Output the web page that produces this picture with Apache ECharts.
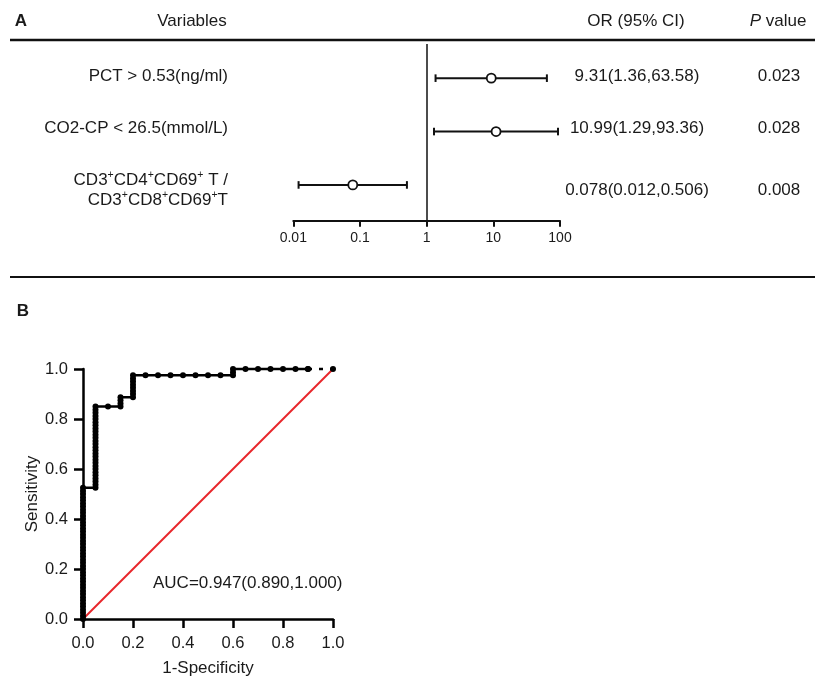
<!DOCTYPE html>
<html><head><meta charset="utf-8">
<script src="https://cdn.jsdelivr.net/npm/echarts@6/dist/echarts.min.js"></script>
<style>html,body{margin:0;padding:0;background:#fff}#c{width:826px;height:678px}</style>
</head><body><div id="c"></div>
<script>
// ---------- Panel A data (forest plot) ----------
const variableLabels = ['PCT > 0.53(ng/ml)', 'CO2-CP < 26.5(mmol/L)', 'CD3⁺CD4⁺CD69⁺ T /\nCD3⁺CD8⁺CD69⁺T'];
const orValues = [9.31, 10.99, 0.078];
const ciLow = [1.36, 1.29, 0.012];
const ciHigh = [63.58, 93.36, 0.506];
const orText = ['9.31(1.36,63.58)', '10.99(1.29,93.36)', '0.078(0.012,0.506)'];
const pValues = ['0.023', '0.028', '0.008'];
const forestTicks = ['0.01', '0.1', '1', '10', '100'];

// ---------- Panel B data (ROC) ----------
const rocPoints = [
 [0,0],[0,0.0125],[0,0.025],[0,0.0375],[0,0.05],[0,0.0625],[0,0.075],[0,0.0875],[0,0.1],[0,0.1125],
 [0,0.125],[0,0.1375],[0,0.15],[0,0.1625],[0,0.175],[0,0.1875],[0,0.2],[0,0.2125],[0,0.225],[0,0.2375],
 [0,0.25],[0,0.2625],[0,0.275],[0,0.2875],[0,0.3],[0,0.3125],[0,0.325],[0,0.3375],[0,0.35],[0,0.3625],
 [0,0.375],[0,0.3875],[0,0.4],[0,0.4125],[0,0.425],[0,0.4375],[0,0.45],[0,0.4625],[0,0.475],[0,0.4875],
 [0,0.5],[0,0.5125],[0,0.525],
 [0.05,0.525],[0.05,0.5375],[0.05,0.55],[0.05,0.5625],[0.05,0.575],[0.05,0.5875],[0.05,0.6],[0.05,0.6125],
 [0.05,0.625],[0.05,0.6375],[0.05,0.65],[0.05,0.6625],[0.05,0.675],[0.05,0.6875],[0.05,0.7],[0.05,0.7125],
 [0.05,0.725],[0.05,0.7375],[0.05,0.75],[0.05,0.7625],[0.05,0.775],[0.05,0.7875],[0.05,0.8],[0.05,0.8125],
 [0.05,0.825],[0.05,0.8375],[0.05,0.85],
 [0.1,0.85],[0.15,0.85],[0.15,0.8625],[0.15,0.875],[0.15,0.8875],
 [0.2,0.8875],[0.2,0.9],[0.2,0.9125],[0.2,0.925],[0.2,0.9375],[0.2,0.95],[0.2,0.9625],[0.2,0.975],
 [0.25,0.975],[0.3,0.975],[0.35,0.975],[0.4,0.975],[0.45,0.975],[0.5,0.975],[0.55,0.975],[0.6,0.975],
 [0.6,0.9875],[0.6,1],[0.65,1],[0.7,1],[0.75,1],[0.8,1],[0.85,1],[0.9,1]
];
const rocTail = [[0.9,1],[1,1]];
const refLine = [[0,0],[1,1]];
const rocTicks = ['0.0','0.2','0.4','0.6','0.8','1.0'];
const aucText = 'AUC=0.947(0.890,1.000)';

const FONT = '"Liberation Sans", Arial, sans-serif';
const TXT = '#1a1a1a';
const FS = 17;

const chart = echarts.init(document.getElementById('c'), null, {renderer: 'canvas'});

chart.setOption({
  animation: false,
  backgroundColor: '#fff',
  textStyle: {fontFamily: FONT},
  grid: [
    {left: 293.3, right: 266, top: 44, bottom: 457.3, containLabel: false},
    {left: 83, width: 250, top: 369, height: 251, containLabel: false}
  ],
  xAxis: [
    {
      gridIndex: 0, type: 'log', logBase: 10, min: 0.01, max: 100,
      axisLine: {onZero: false, lineStyle: {color: '#111', width: 2}},
      axisTick: {length: 6, lineStyle: {color: '#111', width: 2}},
      axisLabel: {fontSize: 14, color: TXT, margin: 10, fontFamily: FONT,
        formatter: (v, i) => forestTicks[i]},
      splitLine: {show: false}
    },
    {
      gridIndex: 1, type: 'value', min: 0, max: 1, interval: 0.2,
      axisLine: {onZero: false, lineStyle: {color: '#000', width: 2.5}},
      axisTick: {length: 9, lineStyle: {color: '#000', width: 2.5}},
      axisLabel: {fontSize: 16.5, color: TXT, margin: 16, fontFamily: FONT,
        formatter: (v, i) => rocTicks[i]},
      splitLine: {show: false},
      name: '1-Specificity', nameLocation: 'middle', nameGap: 41,
      nameTextStyle: {fontSize: FS, color: TXT, fontFamily: FONT}
    }
  ],
  yAxis: [
    {gridIndex: 0, type: 'value', min: -0.64, max: 2.67, inverse: true, show: false},
    {
      gridIndex: 1, type: 'value', min: 0, max: 1, interval: 0.2,
      axisLine: {onZero: false, lineStyle: {color: '#000', width: 2.5}},
      axisTick: {length: 9, lineStyle: {color: '#000', width: 2.5}},
      axisLabel: {fontSize: 16.5, color: TXT, margin: 15, fontFamily: FONT,
        formatter: (v, i) => rocTicks[i]},
      splitLine: {show: false},
      name: 'Sensitivity', nameLocation: 'middle', nameGap: 41,
      nameTextStyle: {fontSize: FS, color: TXT, fontFamily: FONT}
    }
  ],
  series: [
    {
      type: 'custom', xAxisIndex: 0, yAxisIndex: 0,
      data: orValues.map((v, i) => [ciLow[i], ciHigh[i], i]),
      encode: {x: [0, 1], y: 2},
      renderItem: function (params, api) {
        const lo = api.coord([api.value(0), api.value(2)]);
        const hi = api.coord([api.value(1), api.value(2)]);
        const h = 3.8;
        const st = {stroke: '#111', lineWidth: 2};
        return {type: 'group', children: [
          {type: 'line', shape: {x1: lo[0], y1: lo[1], x2: hi[0], y2: hi[1]}, style: st},
          {type: 'line', shape: {x1: lo[0], y1: lo[1] - h, x2: lo[0], y2: lo[1] + h}, style: st},
          {type: 'line', shape: {x1: hi[0], y1: hi[1] - h, x2: hi[0], y2: hi[1] + h}, style: st}
        ]};
      },
      z: 3
    },
    {
      type: 'scatter', xAxisIndex: 0, yAxisIndex: 0,
      data: orValues.map((v, i) => [v, i]),
      symbol: 'circle', symbolSize: 9,
      itemStyle: {color: '#fff', borderColor: '#111', borderWidth: 1.8, opacity: 1},
      z: 4,
      markLine: {
        silent: true, symbol: 'none', label: {show: false},
        lineStyle: {color: '#111', width: 1.5, type: 'solid'},
        data: [{xAxis: 1}]
      }
    },
    {
      type: 'line', xAxisIndex: 1, yAxisIndex: 1, data: refLine,
      showSymbol: false, lineStyle: {color: '#e8262a', width: 2}, z: 2
    },
    {
      type: 'line', xAxisIndex: 1, yAxisIndex: 1, data: rocPoints,
      symbol: 'circle', symbolSize: 6, showSymbol: true, clip: false,
      itemStyle: {color: '#000'}, lineStyle: {color: '#000', width: 2.5}, z: 4
    },
    {
      type: 'line', xAxisIndex: 1, yAxisIndex: 1, data: rocTail,
      symbol: 'circle', symbolSize: 6, clip: false,
      itemStyle: {color: '#000'}, lineStyle: {color: '#000', width: 2.5, type: [4, 7]}, z: 4
    }
  ]
});

// ---------- Text / decorations positioned from the axis scale ----------
function supRich(s) {
  return s.split('\n').map(line => line.split('⁺').map((p, k) => (k > 0 ? '{s|+}' : '') + (p ? '{n|' + p + '}' : '')).join('')).join('\n');
}
const rowY = orValues.map((v, i) => chart.convertToPixel({xAxisIndex: 0, yAxisIndex: 0}, [1, i])[1]);
const textDy = [-2, -3, 5];
const g = [];
const base = {fontFamily: FONT, fontSize: FS, fill: TXT};
// header
g.push({type: 'text', x: 21, y: 21, style: Object.assign({}, base, {text: 'A', fontWeight: 'bold', align: 'center', verticalAlign: 'middle'})});
g.push({type: 'text', x: 192, y: 21, style: Object.assign({}, base, {text: 'Variables', align: 'center', verticalAlign: 'middle'})});
g.push({type: 'text', x: 636, y: 21, style: Object.assign({}, base, {text: 'OR (95% CI)', align: 'center', verticalAlign: 'middle'})});
g.push({type: 'text', x: 778, y: 21, style: Object.assign({}, base, {text: '{i|P} {n|value}', align: 'center', verticalAlign: 'middle',
  rich: {i: {fontFamily: FONT, fontSize: FS, fontStyle: 'italic', color: TXT}, n: {fontFamily: FONT, fontSize: FS, color: TXT}}})});
g.push({type: 'line', shape: {x1: 10, y1: 40, x2: 815, y2: 40}, style: {stroke: '#111', lineWidth: 2.5}});
g.push({type: 'line', shape: {x1: 10, y1: 277, x2: 815, y2: 277}, style: {stroke: '#111', lineWidth: 2}});
g.push({type: 'text', x: 23, y: 311, style: Object.assign({}, base, {text: 'B', fontWeight: 'bold', align: 'center', verticalAlign: 'middle'})});
// rows
variableLabels.forEach((lab, i) => {
  const y = rowY[i] + textDy[i];
  if (lab.indexOf('⁺') >= 0) {
    g.push({type: 'text', x: 228, y: y, style: Object.assign({}, base, {text: supRich(lab), align: 'right', verticalAlign: 'middle',
      rich: {n: {fontFamily: FONT, fontSize: FS, color: TXT, lineHeight: 20}, s: {fontFamily: FONT, fontSize: 10.5, color: TXT, verticalAlign: 'top', lineHeight: 12}}})});
  } else {
    g.push({type: 'text', x: 228, y: y, style: Object.assign({}, base, {text: lab, align: 'right', verticalAlign: 'middle'})});
  }
  g.push({type: 'text', x: 637, y: y, style: Object.assign({}, base, {text: orText[i], align: 'center', verticalAlign: 'middle'})});
  g.push({type: 'text', x: 779, y: y, style: Object.assign({}, base, {text: pValues[i], align: 'center', verticalAlign: 'middle'})});
});
// AUC
g.push({type: 'text', x: 153, y: 583, style: Object.assign({}, base, {text: aucText, align: 'left', verticalAlign: 'middle'})});

chart.setOption({graphic: g});
</script>
</body></html>
